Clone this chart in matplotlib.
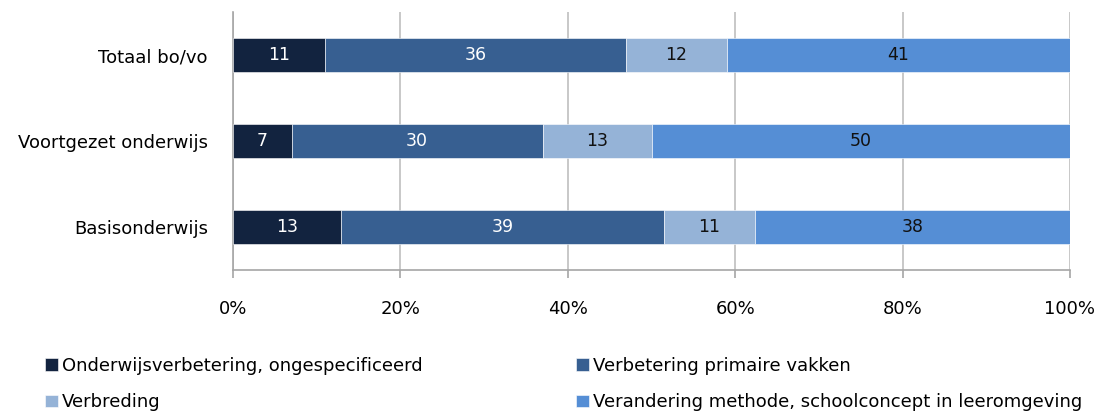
import matplotlib
matplotlib.use("Agg")
import matplotlib.pyplot as plt
import numpy as np

categories = ["Basisonderwijs", "Voortgezet onderwijs", "Totaal bo/vo"]
series_names = [
    "Onderwijsverbetering, ongespecificeerd",
    "Verbetering primaire vakken",
    "Verbreding",
    "Verandering methode, schoolconcept in leeromgeving",
]
values = {
    "Onderwijsverbetering, ongespecificeerd": [13, 7, 11],
    "Verbetering primaire vakken": [39, 30, 36],
    "Verbreding": [11, 13, 12],
    "Verandering methode, schoolconcept in leeromgeving": [38, 50, 41],
}
colors = ["#12233F", "#375F91", "#95B3D7", "#558ED5"]
label_colors = ["white", "white", "#111111", "#111111"]
tick_labels = ["0%", "20%", "40%", "60%", "80%", "100%"]

plt.rcParams["font.family"] = ["DejaVu Sans"]
FS = 13

fig = plt.figure(figsize=(11.02, 4.12), dpi=100)
ax = fig.add_axes([233 / 1102, 1 - 270 / 412, (1070 - 233) / 1102, (270 - 12) / 412])

data = np.array([values[s] for s in series_names], dtype=float)
totals = data.sum(axis=0)
shares = data / totals * 100
y = np.arange(len(categories))
left = np.zeros(len(categories))
handles = []
for i, name in enumerate(series_names):
    bars = ax.barh(y, shares[i], left=left, height=0.39, color=colors[i],
                   edgecolor="#ffffff", linewidth=0.4, label=name, zorder=3)
    handles.append(bars)
    for j in range(len(categories)):
        ax.text(left[j] + shares[i][j] / 2, y[j], f"{int(data[i][j])}",
                ha="center", va="center", color=label_colors[i], fontsize=12.5, zorder=4)
    left += shares[i]

ax.set_xlim(0, 100)
ax.set_ylim(-0.5, 2.5)
ax.set_xticks([0, 20, 40, 60, 80, 100])
ax.set_xticklabels(tick_labels, fontsize=FS)
ax.set_yticks(y)
ax.set_yticklabels(categories, fontsize=FS)
ax.tick_params(axis="y", length=0, pad=18)
ax.tick_params(axis="x", length=6, color="#A6A6A6", width=1.2, pad=15.5)
ax.grid(axis="x", color="#BFBFBF", linewidth=1.2, zorder=0)
for side in ["top", "right"]:
    ax.spines[side].set_visible(False)
for side in ["left", "bottom"]:
    ax.spines[side].set_color("#A6A6A6")
    ax.spines[side].set_linewidth(1.2)

leg = fig.legend(handles=[handles[0], handles[2], handles[1], handles[3]],
                 labels=[series_names[0], series_names[2], series_names[1], series_names[3]],
                 loc="upper left", bbox_to_anchor=(38 / 1102, 1 - 350 / 412),
                 ncol=2, frameon=False, fontsize=FS, handlelength=0.72, handleheight=0.72,
                 handletextpad=0.2, columnspacing=8.5, labelspacing=1.0, borderaxespad=0)

fig.savefig("out.png", dpi=100)
